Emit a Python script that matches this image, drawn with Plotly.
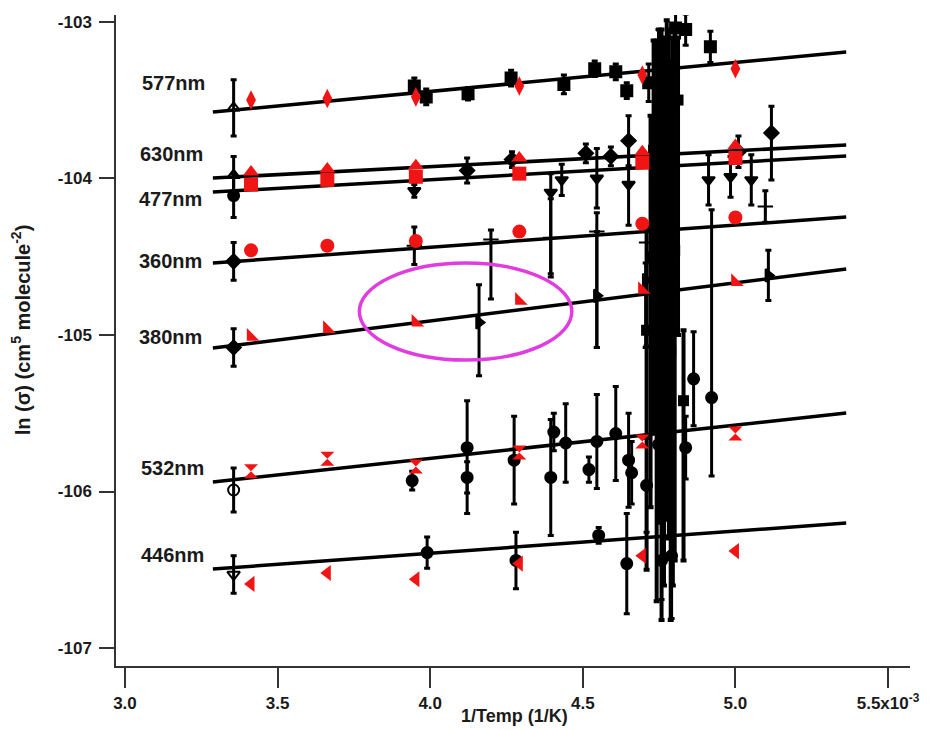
import plotly.graph_objects as go

# ---- wavelength channels -------------------------------------------------
labels = ["577nm", "630nm", "477nm", "360nm", "380nm", "532nm", "446nm"]

# linear fits  ln(sigma) vs 1/T  (x in units of 1e-3 K^-1)
fit_x = [3.288, 5.363]
fit_y = {
    "577nm": [-103.577, -103.193],
    "630nm": [-103.998, -103.787],
    "477nm": [-104.087, -103.858],
    "360nm": [-104.541, -104.247],
    "380nm": [-105.084, -104.579],
    "532nm": [-105.939, -105.499],
    "446nm": [-106.495, -106.201],
}

# red reference measurements (293, 273, 253, 233, 213, 200 K)
red_x = [3.413, 3.663, 3.953, 4.292, 4.695, 5.000]
red_y = {
    "577nm": [-103.50, -103.49, -103.48, -103.41, -103.34, -103.30],
    "630nm": [-103.96, -103.94, -103.92, -103.87, -103.83, -103.79],
    "477nm": [-104.04, -104.01, -103.99, -103.97, -103.90, -103.87],
    "360nm": [-104.46, -104.43, -104.40, -104.34, -104.29, -104.25],
    "380nm": [-105.01, -104.96, -104.92, -104.78, -104.71, -104.66],
    "532nm": [-105.87, -105.79, -105.84, -105.75, -105.68, -105.63],
    "446nm": [-106.59, -106.52, -106.56, -106.46, -106.41, -106.38],
}
red_symbol = {
    "577nm": "diamond-tall", "630nm": "triangle-up", "477nm": "square",
    "360nm": "circle", "380nm": "triangle-sw", "532nm": "hourglass",
    "446nm": "triangle-left",
}

# black measurements with uncertainties: x, y, +err, -err
blk = {
    "577nm": dict(
        x=[3.356, 3.948, 3.987, 4.124, 4.265, 4.438, 4.539, 4.608, 4.644, 4.716, 4.748, 4.804, 4.837, 4.918],
        y=[-103.55, -103.41, -103.48, -103.46, -103.36, -103.40, -103.30, -103.32, -103.44, -103.39, -103.21, -103.04, -103.05, -103.16],
        ep=[0.18, 0.05, 0.05, 0.04, 0.05, 0.06, 0.05, 0.05, 0.05, 0.12, 0.16, 0.10, 0.10, 0.10],
        em=[0.18, 0.05, 0.05, 0.04, 0.05, 0.06, 0.05, 0.05, 0.05, 0.12, 0.16, 0.10, 0.10, 0.10],
        sym="square", first="triangle-up-open"),
    "630nm": dict(
        x=[3.356, 4.121, 4.268, 4.510, 4.592, 4.650, 5.010, 5.118],
        y=[-103.98, -103.95, -103.88, -103.84, -103.86, -103.76, -103.83, -103.71],
        ep=[0.12, 0.08, 0.05, 0.06, 0.06, 0.16, 0.10, 0.17],
        em=[0.12, 0.08, 0.05, 0.06, 0.06, 0.16, 0.10, 0.30],
        sym="diamond", first="triangle-up-open"),
    "477nm": dict(
        x=[3.356, 3.948, 4.395, 4.431, 4.546, 4.650, 4.912, 4.984, 5.052],
        y=[-104.11, -104.08, -104.09, -104.01, -104.00, -104.04, -104.01, -103.99, -104.01],
        ep=[0.14, 0.04, 0.12, 0.10, 0.19, 0.26, 0.16, 0.13, 0.16],
        em=[0.14, 0.04, 0.52, 0.10, 0.19, 0.26, 0.16, 0.13, 0.16],
        sym="triangle-down", first="circle"),
    "360nm": dict(
        x=[3.356, 3.948, 4.199, 4.395, 4.546, 4.709, 5.098],
        y=[-104.53, -104.43, -104.39, -104.38, -104.34, -104.41, -104.18],
        ep=[0.12, 0.12, 0.06, 0.25, 0.12, 0.10, 0.10],
        em=[0.12, 0.12, 0.38, 0.25, 0.74, 0.66, 0.10],
        sym="cross-thin", first="diamond"),
    "380nm": dict(
        x=[3.356, 4.160, 4.546, 4.706, 5.108],
        y=[-105.08, -104.92, -104.75, -104.65, -104.62],
        ep=[0.12, 0.24, 0.41, 0.11, 0.16],
        em=[0.12, 0.34, 0.33, 0.43, 0.16],
        sym="triangle-right", first="diamond"),
    "532nm": dict(
        x=[3.356, 3.941, 4.121, 4.121, 4.275, 4.395, 4.405, 4.444, 4.520, 4.546, 4.608,
           4.650, 4.660, 4.709, 4.748, 4.837, 4.863, 4.922],
        y=[-105.99, -105.93, -105.72, -105.91, -105.80, -105.91, -105.62, -105.69, -105.86, -105.68, -105.63,
           -105.80, -105.88, -105.96, -105.70, -105.72, -105.28, -105.40],
        ep=[0.14, 0.06, 0.30, 0.10, 0.28, 0.37, 0.12, 0.25, 0.08, 0.30, 0.30,
            0.30, 0.20, 0.30, 0.20, 0.20, 0.30, 1.20],
        em=[0.14, 0.06, 0.42, 0.10, 0.28, 0.37, 0.12, 0.25, 0.08, 0.30, 0.30,
            0.30, 0.20, 0.30, 0.20, 0.20, 0.30, 0.50],
        sym="circle", first="circle-open"),
    "446nm": dict(
        x=[3.356, 3.990, 4.281, 4.552, 4.644, 4.758, 4.791],
        y=[-106.53, -106.39, -106.44, -106.28, -106.46, -106.44, -106.41],
        ep=[0.12, 0.10, 0.18, 0.05, 0.32, 0.30, 0.30],
        em=[0.12, 0.10, 0.18, 0.05, 0.32, 0.25, 0.40],
        sym="circle", first="triangle-down-open"),
}

# low-temperature runs near 210 K with very large uncertainties
col_x = [4.709, 4.722, 4.732, 4.742, 4.750, 4.758, 4.766, 4.775, 4.782, 4.788, 4.795, 4.801, 4.812, 4.830]
col_y = [-104.97, -104.50, -103.82, -104.78, -103.40, -104.97, -104.20, -104.14, -103.30, -105.10, -104.60, -104.46, -103.50, -105.42]
col_ep = [0.64, 0.90, 0.70, 1.66, 0.35, 1.92, 1.10, 1.15, 0.25, 1.85, 1.50, 1.44, 0.40, 0.45]
col_em = [1.53, 1.60, 1.80, 1.92, 2.80, 1.85, 2.40, 2.04, 3.00, 1.72, 2.00, 1.98, 1.50, 1.02]

fig = go.Figure()

for name in labels:
    fig.add_trace(go.Scatter(
        x=fit_x, y=fit_y[name], mode="lines",
        line=dict(color="black", width=3.5), showlegend=False, hoverinfo="skip"))

for name in labels:
    b = blk[name]
    syms = [b["first"]] + [b["sym"]] * (len(b["x"]) - 1)
    fig.add_trace(go.Scatter(
        x=b["x"], y=b["y"], mode="markers",
        marker=dict(color="black", size=11, symbol=syms,
                    line=dict(color="black", width=2)),
        error_y=dict(type="data", symmetric=False, array=b["ep"], arrayminus=b["em"],
                     color="black", thickness=3, width=3),
        showlegend=False))

fig.add_trace(go.Scatter(
    x=col_x, y=col_y, mode="markers",
    marker=dict(color="black", size=11, symbol="square"),
    error_y=dict(type="data", symmetric=False, array=col_ep, arrayminus=col_em,
                 color="black", thickness=4, width=3),
    showlegend=False))

for name in labels:
    fig.add_trace(go.Scatter(
        x=red_x, y=red_y[name], mode="markers",
        marker=dict(color="#f01414", size=14, symbol=red_symbol[name], line=dict(width=0)),
        showlegend=False))

label_pos = {
    "577nm": (3.160, -103.391), "630nm": (3.154, -103.845), "477nm": (3.150, -104.133),
    "360nm": (3.150, -104.529), "380nm": (3.150, -105.013), "532nm": (3.157, -105.850),
    "446nm": (3.157, -106.406),
}
annotations = []
for name in labels:
    lx, ly = label_pos[name]
    annotations.append(dict(x=lx, y=ly, xref="x", yref="y", text=name, showarrow=False,
                            font=dict(family="Liberation Sans, Arial", size=20, color="#1a1a1a",
                                      weight="bold")))
annotations.append(dict(x=0.5025, y=-0.0775, xref="paper", yref="paper", text="1/Temp (1/K)",
                        showarrow=False, yanchor="middle",
                        font=dict(family="Liberation Sans, Arial", size=18, color="#1a1a1a",
                                  weight="bold")))
annotations.append(dict(x=-0.1206, y=0.516, xref="paper", yref="paper",
                        text="ln (σ) (cm<sup>5</sup> molecule<sup>-2</sup>)",
                        showarrow=False, textangle=-90, xanchor="center", yanchor="middle",
                        font=dict(family="Liberation Sans, Arial", size=20, color="#1a1a1a",
                                  weight="bold")))

fig.add_shape(type="circle", xref="x", yref="y", x0=3.768, x1=4.464, y0=-105.16, y1=-104.541,
              line=dict(color="#e03ce0", width=3.5))

tickfont = dict(family="Liberation Sans, Arial", size=17, color="#1a1a1a", weight="bold")
fig.update_layout(
    width=932, height=730,
    margin=dict(l=116, r=20, t=15, b=64),
    paper_bgcolor="white", plot_bgcolor="white",
    annotations=annotations,
    xaxis=dict(range=[2.9706, 5.572], showgrid=False, zeroline=False,
               showline=True, linecolor="#333", linewidth=1.5,
               ticks="outside", ticklen=20, tickwidth=1.5, tickcolor="#333",
               tickvals=[3.0, 3.5, 4.0, 4.5, 5.0, 5.5],
               ticktext=["3.0", "3.5", "4.0", "4.5", "5.0", "5.5x10<sup>-3</sup>"],
               tickfont=tickfont, ticklabelstandoff=1),
    yaxis=dict(range=[-107.114, -102.957], showgrid=False, zeroline=False,
               showline=True, linecolor="#333", linewidth=1.5,
               ticks="outside", ticklen=15, tickwidth=1.5, tickcolor="#333",
               tickvals=[-107, -106, -105, -104, -103],
               ticktext=["-107", "-106", "-105", "-104", "-103"],
               tickfont=tickfont, ticklabelstandoff=4),
)

fig.write_html("out.html")
